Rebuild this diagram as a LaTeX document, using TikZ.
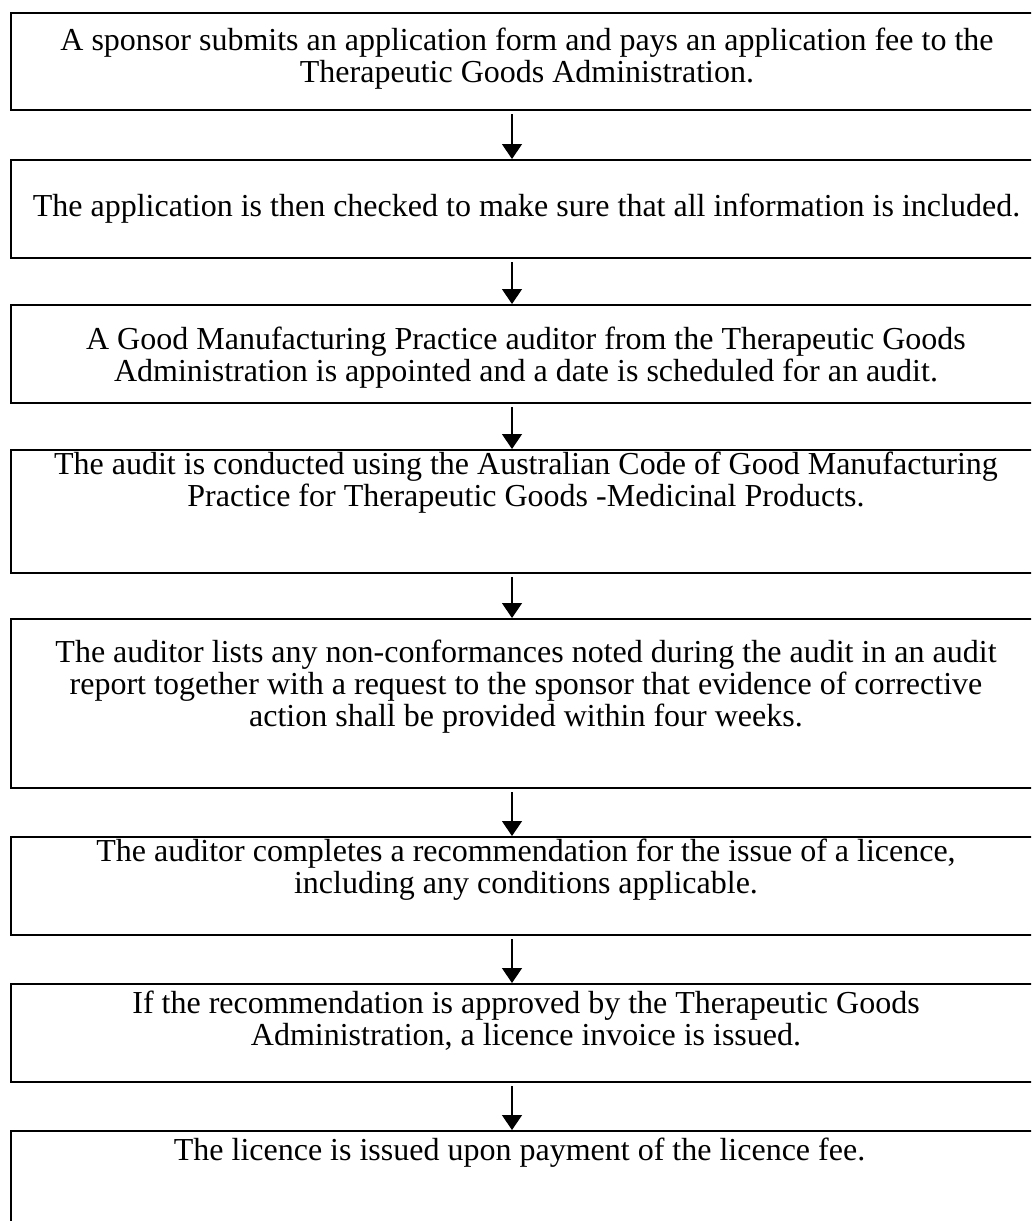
\documentclass[tikz,border=0pt]{standalone}
\usepackage{fontspec}
\setmainfont{Liberation Serif}
\usepackage{tikz}
\usetikzlibrary{arrows.meta}
\tikzstyle{BoxFlow}=[rectangle,draw=black,line width=2pt,minimum width=1029pt,inner sep=0pt]
\tikzstyle{TextFlow}=[align=center,inner sep=0pt,font=\fontsize{32}{32}\selectfont]
\tikzstyle{EdgeFlow}=[line width=1.4pt,-{Triangle[length=15pt,width=20pt]}]

\begin{document}
\begin{tikzpicture}[x=1pt,y=-1pt]
        \useasboundingbox(0,0)rectangle(1031,1221);
        \clip(0,0)rectangle(1031,1221);
        \node[BoxFlow,minimum height=97pt](b1)at(525.5,61.5){};
        \node[BoxFlow,minimum height=98pt](b2)at(525.5,209){};
        \node[BoxFlow,minimum height=98pt](b3)at(525.5,354){};
        \node[BoxFlow,minimum height=123pt](b4)at(525.5,511.5){};
        \node[BoxFlow,minimum height=169pt](b5)at(525.5,703.5){};
        \node[BoxFlow,minimum height=98pt](b6)at(525.5,886){};
        \node[BoxFlow,minimum height=98pt](b7)at(525.5,1033){};
        \node[BoxFlow,minimum height=129pt](b8)at(525.5,1195.5){};
        \node[TextFlow](t1)at(527,59){A sponsor submits an application form and pays an application fee to the\\Therapeutic Goods Administration.};
        \node[TextFlow](t2)at(526.5,209){The application is then checked to make sure that all information is included.};
        \node[TextFlow](t3)at(526,358){A Good Manufacturing Practice auditor from the Therapeutic Goods\\Administration is appointed and a date is scheduled for an audit.};
        \node[TextFlow](t4)at(526,483){The audit is conducted using the Australian Code of Good Manufacturing\\Practice for Therapeutic Goods -Medicinal Products.};
        \node[TextFlow](t5)at(526,687){The auditor lists any non-conformances noted during the audit in an audit\\report together with a request to the sponsor that evidence of corrective\\action shall be provided within four weeks.};
        \node[TextFlow](t6)at(526,870){The auditor completes a recommendation for the issue of a licence,\\including any conditions applicable.};
        \node[TextFlow](t7)at(526,1021){If the recommendation is approved by the Therapeutic Goods\\Administration, a licence invoice is issued.};
        \node[TextFlow](t8)at(519.5,1153){The licence is issued upon payment of the licence fee.};
        \draw[EdgeFlow]([xshift=-13.5pt,yshift=-3pt]b1.south)--([xshift=-13.5pt]b2.north);
        \draw[EdgeFlow]([xshift=-13.5pt,yshift=-3pt]b2.south)--([xshift=-13.5pt]b3.north);
        \draw[EdgeFlow]([xshift=-13.5pt,yshift=-3pt]b3.south)--([xshift=-13.5pt]b4.north);
        \draw[EdgeFlow]([xshift=-13.5pt,yshift=-3pt]b4.south)--([xshift=-13.5pt]b5.north);
        \draw[EdgeFlow]([xshift=-13.5pt,yshift=-3pt]b5.south)--([xshift=-13.5pt]b6.north);
        \draw[EdgeFlow]([xshift=-13.5pt,yshift=-3pt]b6.south)--([xshift=-13.5pt]b7.north);
        \draw[EdgeFlow]([xshift=-13.5pt,yshift=-3pt]b7.south)--([xshift=-13.5pt]b8.north);
\end{tikzpicture}
\end{document}
